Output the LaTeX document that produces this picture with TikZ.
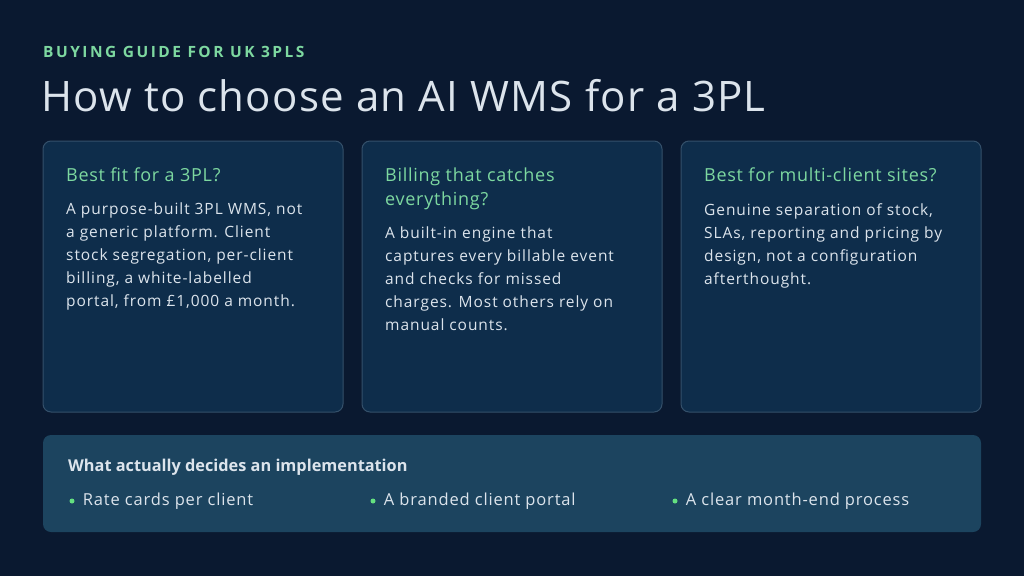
\documentclass[tikz,border=0pt]{standalone}
\usepackage{fontspec}
\setmainfont{Open Sans}
\usetikzlibrary{positioning}
\definecolor{bgblue}{HTML}{0A1930}
\definecolor{cardblue}{HTML}{0E2D4B}
\definecolor{cardedge}{HTML}{34506A}
\definecolor{boxblue}{HTML}{1C445F}
\definecolor{mint}{HTML}{7DD8A0}
\definecolor{bodytext}{HTML}{DCE4EC}
\tikzset{
  card/.style={draw=cardedge, fill=cardblue, line width=1pt, rounded corners=8pt},
  head/.style={anchor=north west, inner sep=0pt, text=mint, font=\fontsize{18}{24}\selectfont\addfontfeature{LetterSpace=4}, align=left},
  body/.style={anchor=north west, inner sep=0pt, text=bodytext, font=\fontsize{15.5}{23}\selectfont\addfontfeature{LetterSpace=6}, align=left},
  bullet/.style={circle, fill=mint!80!green, inner sep=0pt, minimum size=5pt},
  item/.style={anchor=west, inner sep=0pt, text=bodytext, font=\fontsize{16.5}{18}\selectfont\addfontfeature{LetterSpace=5}}
}
\begin{document}
\begin{tikzpicture}[x=1pt, y=-1pt]
  \fill[bgblue] (0,0) rectangle (1024,576);
  \useasboundingbox (0,0) rectangle (1024,576);

  % header
  \node[anchor=north west, inner sep=0pt, text=mint, font=\fontsize{15.5}{18}\selectfont\bfseries\addfontfeature{LetterSpace=16}] (kicker) at (43,46) {BUYING GUIDE FOR UK 3PLS};
  \node[anchor=north west, inner sep=0pt, text=bodytext, font=\fontsize{42}{46}\selectfont\addfontfeature{LetterSpace=3}] (title) at (41,79) {How to choose an AI WMS for a 3PL};

  % cards
  \foreach \x in {43, 362, 681} {
    \draw[card] (\x,141) rectangle ++(300,271);
  }
  \node[head] (h1) at (66,168) {Best fit for a 3PL?};
  \node[body] (b1) at (66,203) {A purpose-built 3PL WMS, not\\a generic platform. Client\\stock segregation, per-client\\billing, a white-labelled\\portal, from £1,000 a month.};

  \node[head] (h2) at (385,168) {Billing that catches\\everything?};
  \node[body] (b2) at (385,227) {A built-in engine that\\captures every billable event\\and checks for missed\\charges. Most others rely on\\manual counts.};

  \node[head] (h3) at (704,168) {Best for multi-client sites?};
  \node[body] (b3) at (704,203) {Genuine separation of stock,\\SLAs, reporting and pricing by\\design, not a configuration\\afterthought.};

  % bottom strip
  \fill[boxblue, rounded corners=8pt] (43,435) rectangle (981,532);
  \node[anchor=north west, inner sep=0pt, text=bodytext, font=\fontsize{16.3}{18}\selectfont\bfseries] (strip) at (68,459) {What actually decides an implementation};
  \node[bullet] (d1) at (72,501) {};
  \node[item, right=8pt of d1] (i1) {Rate cards per client};
  \node[bullet] (d2) at (373,501) {};
  \node[item, right=8pt of d2] (i2) {A branded client portal};
  \node[bullet] (d3) at (675,501) {};
  \node[item, right=8pt of d3] (i3) {A clear month-end process};
\end{tikzpicture}
\end{document}
